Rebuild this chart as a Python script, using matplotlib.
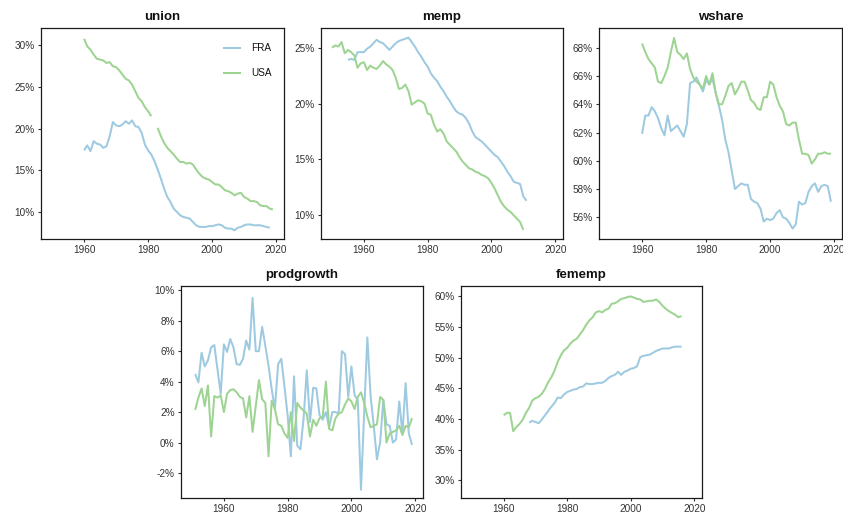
import numpy as np
import matplotlib
matplotlib.use("Agg")
import matplotlib.pyplot as plt
from matplotlib.ticker import FuncFormatter

plt.rcParams['font.family'] = ['Liberation Sans', 'DejaVu Sans']

# ---------------- data ----------------
countries = ["FRA", "USA"]
colors = {"FRA": "#9ecae1", "USA": "#9dd492"}

union_fra_years = list(range(1960, 2019))
union_fra = [17.4, 18.0, 17.3, 18.5, 18.2, 18.1, 17.7, 17.9, 19.1, 20.8,
             20.4, 20.3, 20.5, 20.9, 20.6, 21.0, 20.3, 20.2, 19.5, 18.1,
             17.4, 16.9, 16.1, 15.1, 14.0, 12.8, 11.8, 11.2, 10.4, 10.0,
             9.6, 9.4, 9.3, 9.2, 8.8, 8.4, 8.2, 8.2, 8.2, 8.3,
             8.3, 8.4, 8.5, 8.4, 8.1, 8.0, 8.0, 7.8, 8.1, 8.2,
             8.4, 8.5, 8.5, 8.4, 8.4, 8.4, 8.3, 8.2, 8.1]
union_usa_years = list(range(1960, 2020))
union_usa = [30.8, 29.9, 29.5, 28.9, 28.4, 28.3, 28.2, 27.9, 28.0, 27.5,
             27.4, 27.0, 26.5, 26.0, 25.8, 25.3, 24.5, 23.7, 23.3, 22.6,
             22.1, 21.5, np.nan, 20.1, 19.1, 18.3, 17.7, 17.3, 16.9, 16.4,
             16.0, 16.0, 15.8, 15.9, 15.7, 15.1, 14.6, 14.2, 14.0, 13.9,
             13.6, 13.3, 13.3, 13.0, 12.6, 12.5, 12.3, 12.0, 12.2, 12.3,
             11.8, 11.6, 11.3, 11.3, 11.2, 10.8, 10.7, 10.7, 10.4, 10.3]

memp_fra_years = list(range(1955, 2012))
memp_fra = [23.9, 24.0, 23.9, 24.6, 24.6,
            24.6, 24.9, 25.1, 25.4, 25.7, 25.5, 25.4, 25.1, 24.8, 25.1,
            25.4, 25.6, 25.7, 25.8, 25.9, 25.5, 25.1, 24.6, 24.2, 23.7,
            23.3, 22.7, 22.3, 22.0, 21.5, 21.1, 20.6, 20.2, 19.7, 19.3,
            19.1, 19.0, 18.7, 18.2, 17.5, 17.0, 16.8, 16.6, 16.3, 16.0,
            15.7, 15.4, 15.2, 14.8, 14.4, 13.9, 13.5, 13.0, 12.9, 12.8,
            11.7, 11.3]
memp_usa_years = list(range(1950, 2011))
memp_usa = [25.0, 25.2, 25.1, 25.5, 24.5, 24.8, 24.6, 24.3, 23.2, 23.6,
            23.7, 23.0, 23.4, 23.2, 23.1, 23.4, 23.8, 23.5, 23.3, 23.0,
            22.3, 21.3, 21.4, 21.7, 21.1, 19.9, 20.1, 20.3, 20.2, 20.0,
            19.1, 19.0, 18.1, 17.5, 17.7, 17.3, 16.6, 16.3, 16.0, 15.7,
            15.2, 14.8, 14.5, 14.2, 14.1, 13.9, 13.8, 13.6, 13.5, 13.3,
            12.9, 12.4, 11.8, 11.2, 10.8, 10.5, 10.3, 10.0, 9.7, 9.4,
            8.7]

wshare_fra_years = list(range(1960, 2020))
wshare_fra = [61.9, 63.2, 63.2, 63.8, 63.5, 63.0, 62.3, 61.8, 63.2, 62.1,
              62.3, 62.5, 62.1, 61.7, 62.6, 65.5, 65.6, 65.9, 65.4, 64.9,
              65.7, 65.4, 65.8, 64.8, 63.9, 62.9, 61.5, 60.6, 59.3, 58.0,
              58.2, 58.4, 58.3, 58.3, 57.3, 57.1, 57.0, 56.6, 55.7, 55.9,
              55.8, 55.9, 56.3, 56.5, 56.0, 55.9, 55.6, 55.2, 55.5, 57.1,
              56.9, 57.0, 57.8, 58.2, 58.4, 57.8, 58.2, 58.3, 58.2, 57.1]
wshare_usa_years = list(range(1960, 2020))
wshare_usa = [68.3, 67.7, 67.2, 66.9, 66.6, 65.6, 65.5, 66.0, 66.6, 67.7,
              68.7, 67.7, 67.5, 67.2, 67.6, 66.5, 65.9, 65.6, 65.4, 65.1,
              66.0, 65.4, 66.2, 64.8, 64.0, 64.0, 64.6, 65.3, 65.5, 64.7,
              65.1, 65.6, 65.6, 65.0, 64.3, 64.1, 63.7, 63.6, 64.5, 64.5,
              65.6, 65.4, 64.5, 63.9, 63.5, 62.6, 62.5, 62.7, 62.7, 61.5,
              60.5, 60.5, 60.4, 59.8, 60.1, 60.5, 60.5, 60.6, 60.5, 60.5]

prod_fra_years = list(range(1951, 2020))
prod_fra = [4.5, 3.95, 5.9, 5.0, 5.4, 6.25, 6.4, 4.8, 3.2,
            6.45, 5.95, 6.8, 6.25, 5.15, 5.1, 5.5, 6.7, 6.1, 9.5,
            6.0, 6.0, 7.6, 6.35, 5.05, 3.5, 2.2, 5.15, 5.5, 3.7,
            1.75, -0.9, 4.35, -0.2, -0.45, 1.6, 4.75, 1.35, 3.6, 3.55,
            1.8, 1.5, 2.0, 1.0, 2.0, 2.0, 1.9, 6.0, 5.8, 3.0,
            5.0, 3.1, 2.8, -3.1, 2.0, 6.9, 3.1, 1.1, -1.1, 0.0,
            2.8, 1.2, 1.1, 0.0, 0.2, 2.7, 0.6, 3.9, 0.6, -0.15]
prod_usa_years = list(range(1951, 2020))
prod_usa = [2.15, 2.95, 3.55, 2.4, 3.75, 0.4, 3.05, 2.95, 3.1,
            2.0, 3.2, 3.45, 3.5, 3.3, 3.0, 2.9, 1.65, 3.05, 0.7,
            2.4, 4.1, 2.85, 2.6, -0.9, 2.75, 2.2, 1.2, 1.1, 0.6,
            0.3, 2.0, 0.1, 2.6, 2.3, 2.1, 1.9, 0.4, 1.5, 1.1,
            1.6, 1.7, 4.0, 0.9, 0.8, 1.6, 1.9, 2.0, 2.5, 2.9,
            2.7, 2.2, 3.0, 3.3, 2.6, 1.7, 1.0, 1.1, 1.2, 3.0,
            2.8, 0.0, 0.6, 0.7, 0.8, 1.1, 0.5, 1.1, 1.0, 1.6]

fem_fra_years = list(range(1968, 2017))
fem_fra = [39.4, 39.7,
           39.5, 39.3, 39.9, 40.6, 41.3, 42.0, 42.6, 43.5, 43.4, 44.0,
           44.4, 44.6, 44.8, 44.9, 45.2, 45.3, 45.8, 45.7, 45.7, 45.8,
           45.9, 45.9, 46.2, 46.7, 47.0, 47.2, 47.7, 47.2, 47.7, 47.9,
           48.2, 48.3, 48.6, 50.1, 50.3, 50.4, 50.5, 50.8, 51.1, 51.3,
           51.5, 51.5, 51.5, 51.7, 51.8, 51.8, 51.8]
fem_usa_years = list(range(1960, 2017))
fem_usa = [40.6, 41.0, 41.0, 38.0, 38.7, 39.2, 39.9, 41.0, 41.8, 43.0,
           43.4, 43.6, 44.1, 44.9, 46.0, 46.8, 47.9, 49.3, 50.4, 51.2,
           51.6, 52.3, 52.8, 53.1, 53.8, 54.5, 55.4, 56.1, 56.6, 57.4,
           57.6, 57.4, 57.8, 58.0, 58.8, 58.9, 59.2, 59.6, 59.7, 59.9,
           60.0, 59.8, 59.6, 59.5, 59.1, 59.2, 59.3, 59.3, 59.5, 59.1,
           58.5, 58.0, 57.6, 57.3, 57.0, 56.6, 56.8]

x_ticks = [1960, 1980, 2000, 2020]

panels = [
    dict(title="union", series={"FRA": (union_fra_years, union_fra), "USA": (union_usa_years, union_usa)},
         rect=[41, 28, 284, 239], ylim=(6.75, 32.1), yticks=[10, 15, 20, 25, 30]),
    dict(title="memp", series={"FRA": (memp_fra_years, memp_fra), "USA": (memp_usa_years, memp_usa)},
         rect=[321, 28, 563, 239], ylim=(7.88, 26.76), yticks=[10, 15, 20, 25]),
    dict(title="wshare", series={"FRA": (wshare_fra_years, wshare_fra), "USA": (wshare_usa_years, wshare_usa)},
         rect=[599, 28, 842, 239], ylim=(54.46, 69.4), yticks=[56, 58, 60, 62, 64, 66, 68]),
    dict(title="prodgrowth", series={"FRA": (prod_fra_years, prod_fra), "USA": (prod_usa_years, prod_usa)},
         rect=[181, 286, 423, 498], ylim=(-3.64, 10.28), yticks=[-2, 0, 2, 4, 6, 8, 10]),
    dict(title="fememp", series={"FRA": (fem_fra_years, fem_fra), "USA": (fem_usa_years, fem_usa)},
         rect=[461, 286, 702, 498], ylim=(27.1, 61.7), yticks=[30, 35, 40, 45, 50, 55, 60]),
]

W, H = 843, 517
fig = plt.figure(figsize=(W / 100, H / 100), dpi=100)
fig.patch.set_facecolor("white")

pct = FuncFormatter(lambda v, p: f"{v:.0f}%")
handles = {}
for i, pnl in enumerate(panels):
    l, t, r, b = pnl["rect"]
    ax = fig.add_axes([l / W, 1 - b / H, (r - l) / W, (b - t) / H])
    for c in countries:
        xs, ys = pnl["series"][c]
        line, = ax.plot(xs, ys, color=colors[c], lw=1.45, solid_capstyle="butt")
        handles[c] = line
    ax.set_xlim(1946.55, 2022.45)
    ax.set_ylim(*pnl["ylim"])
    ax.set_xticks(x_ticks)
    ax.set_yticks(pnl["yticks"])
    ax.yaxis.set_major_formatter(pct)
    ax.tick_params(axis="both", direction="out", length=2.5, width=0.8, pad=2,
                   labelsize=7.2, labelcolor="#333333", color="#333333")
    for sp in ax.spines.values():
        sp.set_color("#1a1a1a")
        sp.set_linewidth(0.9)
    ax.set_title(pnl["title"], fontsize=9.5, fontweight="bold", pad=6, color="#111111")
    if i == 0:
        leg = ax.legend([handles[c] for c in countries], countries, loc="upper left",
                        bbox_to_anchor=(223 / W, 1 - 43 / H), bbox_transform=fig.transFigure,
                        frameon=False, fontsize=7.2, handlelength=1.8, handletextpad=1.0,
                        labelspacing=1.55, borderpad=0, borderaxespad=0)
        for txt in leg.get_texts():
            txt.set_color("#111111")

fig.savefig("out.png", dpi=100)
